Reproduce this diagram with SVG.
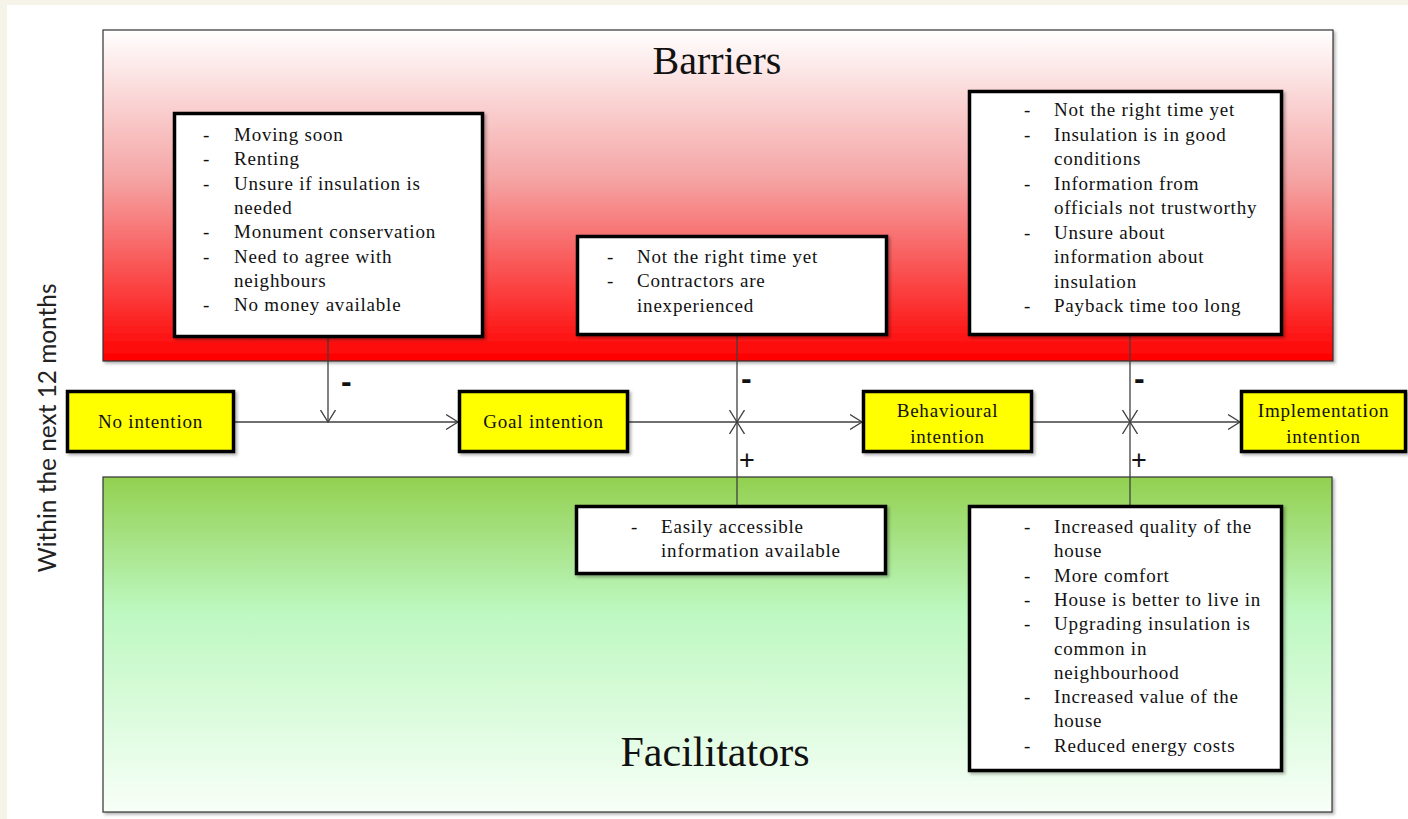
<svg xmlns="http://www.w3.org/2000/svg" width="1408" height="819" viewBox="0 0 1408 819">
<defs>
<linearGradient id="gRed" x1="0" y1="0" x2="0" y2="1">
<stop offset="0" stop-color="#ffffff"/>
<stop offset="0.45" stop-color="#f5a4a4"/>
<stop offset="1" stop-color="#ff0000"/>
</linearGradient>
<linearGradient id="gGreen" x1="0" y1="0" x2="0" y2="1">
<stop offset="0" stop-color="#92d050"/>
<stop offset="0.4" stop-color="#bdf8c0"/>
<stop offset="1" stop-color="#f8fff8"/>
</linearGradient>
<filter id="sh" x="-5%" y="-5%" width="110%" height="115%">
<feDropShadow dx="2" dy="2" stdDeviation="1.5" flood-color="#000" flood-opacity="0.3"/>
</filter>
<marker id="arr" markerUnits="userSpaceOnUse" markerWidth="14" markerHeight="16" refX="12" refY="8" orient="auto">
<path d="M0,0.5 L12,8 L0,15.5" fill="none" stroke="#404040" stroke-width="1.3"/>
</marker>
</defs>
<style>
.panel{stroke:#333;stroke-width:1.2;filter:url(#sh)}
.box{fill:#fff;stroke:#000;stroke-width:3.5;filter:url(#sh)}
.node{fill:#ffff00;stroke:#000;stroke-width:3.5;filter:url(#sh)}
.t{font-family:"Liberation Serif","Times New Roman",serif;font-size:19px;letter-spacing:0.8px;fill:#111}
.c{text-anchor:middle}
.title{font-family:"Liberation Serif","Times New Roman",serif;fill:#111;text-anchor:middle}
.ln{stroke:#404040;stroke-width:1.3;fill:none}
.minus{font-family:"Liberation Sans",Arial,sans-serif;font-weight:bold;font-size:32px;fill:#111}
.plus{font-family:"Liberation Sans",Arial,sans-serif;font-weight:normal;font-size:27px;fill:#111}
</style>
<rect x="0" y="0" width="1408" height="819" fill="#f6f4e8"/>
<rect x="7" y="5" width="1401" height="814" fill="#ffffff"/>

<text x="56" y="428" transform="rotate(-90 56 428)" font-family="Lato,'Open Sans',sans-serif" font-size="25" fill="#222" text-anchor="middle" textLength="289" lengthAdjust="spacingAndGlyphs">Within the next 12 months</text>

<g id="barriers">
<rect class="panel" x="103" y="30" width="1230" height="331" fill="url(#gRed)"/>
<text class="title" x="717" y="74" font-size="40">Barriers</text>
</g>
<g id="facilitators">
<rect class="panel" x="103" y="477" width="1229" height="335" fill="url(#gGreen)"/>
<text class="title" x="715" y="766" font-size="42">Facilitators</text>
</g>

<g id="connectors">
<line class="ln" x1="328" y1="338" x2="328" y2="422" marker-end="url(#arr)"/>
<line class="ln" x1="737" y1="336" x2="737" y2="422" marker-end="url(#arr)"/>
<line class="ln" x1="737" y1="505" x2="737" y2="422" marker-end="url(#arr)"/>
<line class="ln" x1="1130" y1="336" x2="1130" y2="422" marker-end="url(#arr)"/>
<line class="ln" x1="1130" y1="505" x2="1130" y2="422" marker-end="url(#arr)"/>
<line class="ln" x1="235" y1="422" x2="458" y2="422" marker-end="url(#arr)"/>
<line class="ln" x1="629" y1="422" x2="862" y2="422" marker-end="url(#arr)"/>
<line class="ln" x1="1033" y1="422" x2="1240" y2="422" marker-end="url(#arr)"/>
<text class="minus" x="341" y="392">-</text>
<text class="minus" x="741" y="389">-</text>
<text class="minus" x="1134" y="389">-</text>
<text class="plus" x="739" y="469">+</text>
<text class="plus" x="1131" y="469">+</text>
</g>

<g id="barrier1">
<rect class="box" x="174.5" y="113.5" width="308" height="223"/>
<g class="t">
<text x="203" y="141">-</text><text x="234" y="141">Moving soon</text>
<text x="203" y="165.3">-</text><text x="234" y="165.3">Renting</text>
<text x="203" y="189.6">-</text><text x="234" y="189.6">Unsure if insulation is</text>
<text x="234" y="213.9">needed</text>
<text x="203" y="238.2">-</text><text x="234" y="238.2">Monument conservation</text>
<text x="203" y="262.5">-</text><text x="234" y="262.5">Need to agree with</text>
<text x="234" y="286.8">neighbours</text>
<text x="203" y="311.1">-</text><text x="234" y="311.1">No money available</text>
</g>
</g>

<g id="barrier2">
<rect class="box" x="577.5" y="236.5" width="309" height="98"/>
<g class="t">
<text x="607" y="263">-</text><text x="637" y="263">Not the right time yet</text>
<text x="607" y="287.3">-</text><text x="637" y="287.3">Contractors are</text>
<text x="637" y="311.6">inexperienced</text>
</g>
</g>

<g id="barrier3">
<rect class="box" x="969.5" y="91.5" width="312" height="243"/>
<g class="t">
<text x="1024" y="116">-</text><text x="1054" y="116">Not the right time yet</text>
<text x="1024" y="140.5">-</text><text x="1054" y="140.5">Insulation is in good</text>
<text x="1054" y="165">conditions</text>
<text x="1024" y="189.5">-</text><text x="1054" y="189.5">Information from</text>
<text x="1054" y="214">officials not trustworthy</text>
<text x="1024" y="238.5">-</text><text x="1054" y="238.5">Unsure about</text>
<text x="1054" y="263">information about</text>
<text x="1054" y="287.5">insulation</text>
<text x="1024" y="312">-</text><text x="1054" y="312">Payback time too long</text>
</g>
</g>

<g id="facilitator1">
<rect class="box" x="576.5" y="506.5" width="309" height="67"/>
<g class="t">
<text x="631" y="533">-</text><text x="661" y="533">Easily accessible</text>
<text x="661" y="557">information available</text>
</g>
</g>

<g id="facilitator2">
<rect class="box" x="969.5" y="506.5" width="312" height="264"/>
<g class="t">
<text x="1024" y="533">-</text><text x="1054" y="533">Increased quality of the</text>
<text x="1054" y="557.3">house</text>
<text x="1024" y="581.6">-</text><text x="1054" y="581.6">More comfort</text>
<text x="1024" y="605.9">-</text><text x="1054" y="605.9">House is better to live in</text>
<text x="1024" y="630.2">-</text><text x="1054" y="630.2">Upgrading insulation is</text>
<text x="1054" y="654.5">common in</text>
<text x="1054" y="678.8">neighbourhood</text>
<text x="1024" y="703.1">-</text><text x="1054" y="703.1">Increased value of the</text>
<text x="1054" y="727.4">house</text>
<text x="1024" y="751.7">-</text><text x="1054" y="751.7">Reduced energy costs</text>
</g>
</g>

<g id="noIntention">
<rect class="node" x="67.5" y="391.5" width="166" height="60"/>
<text class="t c" x="150.5" y="428">No intention</text>
</g>
<g id="goalIntention">
<rect class="node" x="459.5" y="391.5" width="168" height="60"/>
<text class="t c" x="543.5" y="428">Goal intention</text>
</g>
<g id="behaviouralIntention">
<rect class="node" x="863.5" y="391.5" width="168" height="60"/>
<text class="t c" x="947.5" y="417">Behavioural</text>
<text class="t c" x="947.5" y="443">intention</text>
</g>
<g id="implementationIntention">
<rect class="node" x="1241.5" y="391.5" width="164" height="60"/>
<text class="t c" x="1323.5" y="417">Implementation</text>
<text class="t c" x="1323.5" y="443">intention</text>
</g>
</svg>
